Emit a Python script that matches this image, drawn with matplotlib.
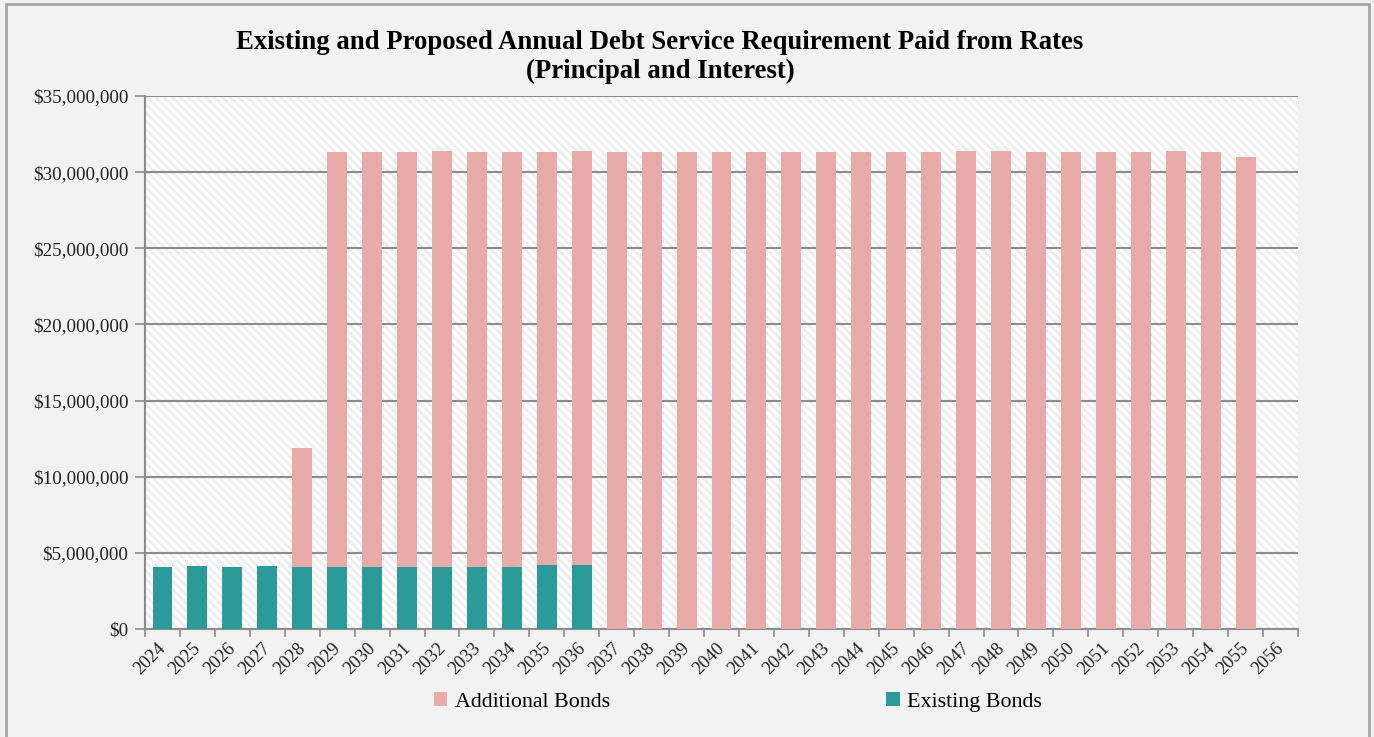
import matplotlib
matplotlib.use("Agg")
import matplotlib.pyplot as plt
from matplotlib.patches import Rectangle, Patch
from matplotlib.ticker import FuncFormatter, MultipleLocator
from matplotlib.transforms import ScaledTranslation
import numpy as np

years = [str(y) for y in range(2024, 2057)]
existing = [4.08, 4.15, 4.08, 4.15, 4.08, 4.08, 4.08, 4.08, 4.08, 4.08, 4.08, 4.22, 4.22,
            0, 0, 0, 0, 0, 0, 0, 0, 0, 0, 0, 0, 0, 0, 0, 0, 0, 0, 0, 0]
totals = [4.08, 4.15, 4.08, 4.15, 11.9, 31.35, 31.35, 31.35, 31.4, 31.35, 31.35, 31.35, 31.4,
          31.35, 31.35, 31.35, 31.35, 31.35, 31.35, 31.35, 31.35, 31.35, 31.35, 31.4, 31.4,
          31.35, 31.35, 31.35, 31.35, 31.4, 31.35, 31.0, 0]
existing = np.array(existing) * 1e6
additional = np.array(totals) * 1e6 - existing

title = "Existing and Proposed Annual Debt Service Requirement Paid from Rates\n(Principal and Interest)"
series_names = ["Additional Bonds", "Existing Bonds"]
pink = "#e9aaaa"
teal = "#2a9b98"

plt.rcParams['font.family'] = ['Liberation Serif', 'DejaVu Serif']
plt.rcParams['hatch.linewidth'] = 2.0

fig = plt.figure(figsize=(13.74, 7.37), dpi=100, facecolor="#f2f2f2")
ax = fig.add_axes([145/1374, 1-629/737, (1298-145)/1374, (629-96)/737])
ax.set_facecolor("white")

# hatched background
bg = Rectangle((0, 0), 1, 1, transform=ax.transAxes, facecolor="white",
               edgecolor="#eeeeee", hatch="\\\\\\\\", linewidth=0, zorder=0)
ax.add_patch(bg)

x = np.arange(len(years))
w = 0.57
ax.bar(x, existing, w, color=teal, zorder=3, label=series_names[1])
ax.bar(x, additional, w, bottom=existing, color=pink, zorder=3, label=series_names[0])

ax.set_xlim(-0.5, len(years) - 0.5)
ax.set_ylim(0, 35e6)
ax.yaxis.set_major_locator(MultipleLocator(5e6))
ax.yaxis.set_major_formatter(FuncFormatter(lambda v, p: "${:,.0f}".format(v)))
ax.grid(axis="y", color="#8c8c8c", linewidth=1.5, zorder=1)
ax.set_axisbelow(True)

ax.set_xticks(np.arange(-0.5, len(years), 1.0))
ax.set_xticklabels([])
ax.set_xticks(x, minor=True)
ax.set_xticklabels(years, minor=True, rotation=45, ha="right", va="top", fontsize=13.2, color="#222222")
ax.tick_params(axis="x", which="major", length=6, width=1.2, color="#8c8c8c", direction="out")
ax.tick_params(axis="x", which="minor", length=0, pad=7.5)
offset = ScaledTranslation(7/100, 0, fig.dpi_scale_trans)
for lbl in ax.get_xticklabels(minor=True):
    lbl.set_transform(lbl.get_transform() + offset)
ax.tick_params(axis="y", length=7, width=1.2, color="#8c8c8c", labelsize=13.7,
               labelcolor="#222222", pad=5)

for s in ["top", "right"]:
    ax.spines[s].set_visible(False)
for s in ["left", "bottom"]:
    ax.spines[s].set_color("#8c8c8c")
    ax.spines[s].set_linewidth(1.5)

fig.text(660/1374, 1-57/737, title, ha="center", va="center", fontsize=19.3,
         fontweight="bold", linespacing=1.15)

handles = [Patch(facecolor=pink, edgecolor="none"), Patch(facecolor=teal, edgecolor="none")]
fig.legend(handles, series_names, loc="center", bbox_to_anchor=(738/1374, 1-702/737),
           ncol=2, frameon=False, fontsize=15.8, handlelength=0.6, handleheight=0.6,
           handletextpad=0.35, columnspacing=12.6)

border = Rectangle((6/1374, -0.01), (1369-6)/1374, 1.01 - 4/737, transform=fig.transFigure,
                   facecolor="none", edgecolor="#a6a6a6", linewidth=2)
fig.patches.append(border)

fig.savefig("out.png", dpi=100, facecolor=fig.get_facecolor())
